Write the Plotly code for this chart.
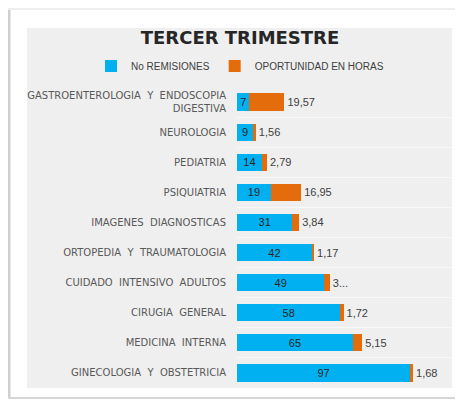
import plotly.graph_objects as go

categories = [
    "GASTROENTEROLOGIA  Y  ENDOSCOPIA<br>DIGESTIVA",
    "NEUROLOGIA",
    "PEDIATRIA",
    "PSIQUIATRIA",
    "IMAGENES  DIAGNOSTICAS",
    "ORTOPEDIA  Y  TRAUMATOLOGIA",
    "CUIDADO  INTENSIVO  ADULTOS",
    "CIRUGIA  GENERAL",
    "MEDICINA  INTERNA",
    "GINECOLOGIA  Y  OBSTETRICIA",
]
remisiones = [7, 9, 14, 19, 31, 42, 49, 58, 65, 97]
oportunidad = [19.57, 1.56, 2.79, 16.95, 3.84, 1.17, 3.0, 1.72, 5.15, 1.68]
oportunidad_labels = ["19,57", "1,56", "2,79", "16,95", "3,84", "1,17", "3...", "1,72", "5,15", "1,68"]

BLUE = "#00B0F0"
ORANGE = "#E46C0A"
OFF = 8  # page body margin
W, H = 463 - OFF, 404 - OFF
L, R, T, B = 237 - OFF, 11, 87 - OFF, 16
pw, ph = W - L - R, H - T - B

def px_x(x):  # page pixel -> paper
    return (x - OFF - L) / pw

def px_y(y):
    return (H - B - (y - OFF)) / ph

fig = go.Figure()
fig.add_trace(go.Bar(
    y=categories, x=remisiones, orientation="h", name="No REMISIONES",
    marker=dict(color=BLUE, line=dict(width=0)),
    text=[str(v) for v in remisiones], textposition="inside",
    insidetextanchor="middle", constraintext="none",
    textfont=dict(family="Liberation Sans", size=11, color="#262626"),
))
fig.add_trace(go.Bar(
    y=categories, x=oportunidad, orientation="h", name="OPORTUNIDAD EN HORAS",
    marker=dict(color=ORANGE, line=dict(width=0)),
    text=oportunidad_labels, textposition="outside", constraintext="none",
    cliponaxis=False,
    textfont=dict(family="Liberation Sans", size=11, color="#404040"),
))

shapes = [
    dict(type="rect", xref="paper", yref="paper", layer="below",
         x0=px_x(27), x1=px_x(452), y0=px_y(388), y1=px_y(28),
         fillcolor="#EFEFEF", line=dict(width=0)),
    dict(type="line", xref="paper", yref="paper", layer="below",
         x0=px_x(9), x1=px_x(9), y0=px_y(399), y1=px_y(8),
         line=dict(color="#CFCFCF", width=3)),
    dict(type="line", xref="paper", yref="paper", layer="below",
         x0=px_x(8), x1=px_x(463), y0=px_y(9), y1=px_y(9),
         line=dict(color="#EEEEEE", width=2)),
    dict(type="line", xref="paper", yref="paper", layer="below",
         x0=px_x(8), x1=px_x(463), y0=px_y(398), y1=px_y(398),
         line=dict(color="#D6D6D6", width=2)),
]

fig.update_layout(
    width=W, height=H,
    margin=dict(l=L, r=R, t=T, b=B, autoexpand=False),
    paper_bgcolor="white", plot_bgcolor="#EFEFEF",
    barmode="stack", bargap=0.43,
    shapes=shapes,
    title=dict(text="<b>TERCER TRIMESTRE</b>", xref="container", x=(240 - OFF) / W,
               xanchor="center", yref="container", y=1 - (38 - OFF) / H, yanchor="middle",
               font=dict(family="DejaVu Sans", size=18, color="#262626")),
    legend=dict(orientation="h", xref="paper", x=px_x(91), xanchor="left",
                yref="paper", y=px_y(66), yanchor="middle",
                font=dict(family="Liberation Sans", size=10, color="#404040"),
                itemwidth=30, bgcolor="rgba(0,0,0,0)", traceorder="normal"),
    showlegend=True,
    xaxis=dict(range=[0, 120.5], showgrid=False, zeroline=False,
               showticklabels=False, showline=False, fixedrange=True),
    yaxis=dict(autorange="reversed", tickson="boundaries", showgrid=True,
               gridcolor="#F8F8F8", gridwidth=1, ticks="", showline=False,
               ticklabelstandoff=10, automargin=False,
               tickfont=dict(family="DejaVu Sans", size=10, color="#595959")),
    font=dict(family="Liberation Sans"),
)

fig.write_html("out.html")
